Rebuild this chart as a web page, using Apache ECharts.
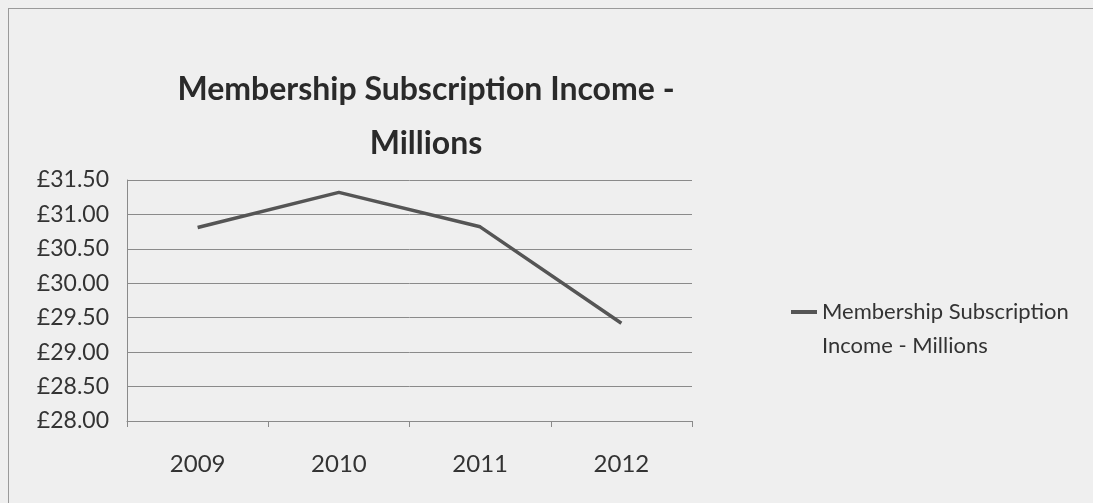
<!DOCTYPE html>
<html><head><meta charset="utf-8">
<script src="https://cdn.jsdelivr.net/npm/echarts@6/dist/echarts.min.js"></script>
<style>
html,body{margin:0;padding:0;background:#efefef;}
#frame{position:absolute;left:8px;top:8px;width:1100px;height:520px;border:1px solid #9a9a9a;}
#c{position:absolute;left:0;top:0;width:1093px;height:503px;}
</style></head><body>
<div id="frame"></div>
<div id="c"></div>
<script>
const titleText = 'Membership Subscription Income -\nMillions';
const seriesName = 'Membership Subscription Income - Millions';
const legendLines = 'Membership Subscription\nIncome - Millions';
const categories = ['2009', '2010', '2011', '2012'];
const values = [30.81, 31.32, 30.82, 29.42];
const yMin = 28.0, yMax = 31.5, yStep = 0.5;

const chart = echarts.init(document.getElementById('c'), null, {renderer: 'canvas'});
const font = 'Lato, "Open Sans", sans-serif';
chart.setOption({
  backgroundColor: 'transparent',
  animation: false,
  title: {
    text: titleText,
    left: 421, top: 58, textAlign: 'center',
    textStyle: {fontFamily: font, fontSize: 32, fontWeight: 'bold', color: '#2a2a2a', lineHeight: 54}
  },
  legend: {
    left: 786, top: 290, orient: 'vertical',
    itemWidth: 26, itemHeight: 68,
    icon: 'path://M0,0L0.01,0L0.01,0.01L0,0.01Z M0,15L26,15L26,19L0,19Z M25.99,67.99L26,67.99L26,68L25.99,68Z',
    itemStyle: {borderWidth: 0},
    itemGap: 0,
    formatter: function(n){ return legendLines; },
    textStyle: {fontFamily: font, fontSize: 22, color: '#333', lineHeight: 34}
  },
  grid: {left: 127, right: 401, top: 180, bottom: 82, containLabel: false},
  xAxis: {
    type: 'category', data: categories, boundaryGap: true,
    axisLine: {lineStyle: {color: '#8a8a8a', width: 1}},
    axisTick: {show: true, length: 6, lineStyle: {color: '#8a8a8a'}},
    axisLabel: {fontFamily: font, fontSize: 24, color: '#333', margin: 31}
  },
  yAxis: {
    type: 'value', min: yMin, max: yMax, interval: yStep,
    axisLine: {show: true, lineStyle: {color: '#8a8a8a', width: 1}},
    axisTick: {show: false},
    splitLine: {lineStyle: {color: '#8a8a8a', width: 1}},
    axisLabel: {fontFamily: font, fontSize: 23, color: '#333', margin: 18,
      formatter: function(v){ return '£' + v.toFixed(2); }}
  },
  series: [{
    name: seriesName, type: 'line', data: values,
    symbol: 'none', lineStyle: {color: '#555', width: 3.5},
    itemStyle: {color: '#555'}
  }]
});
</script>
</body></html>
